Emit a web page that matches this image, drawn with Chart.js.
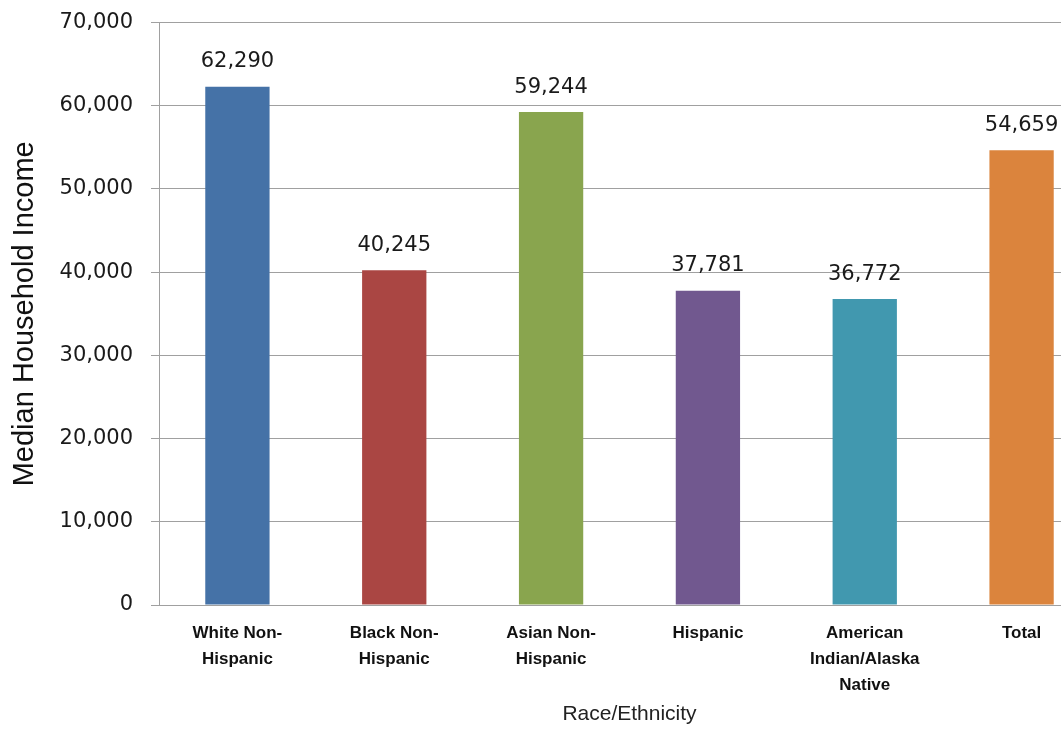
<!DOCTYPE html>
<html>
<head>
    <title>Median Household Income by Race/Ethnicity</title>
    <script src="https://cdn.jsdelivr.net/npm/chart.js"></script>
    <style>
        html, body { margin: 0; padding: 0; background: #fff; overflow: hidden; }
        #wrap { width: 1102px; height: 738px; margin-top: -8px; }
    </style>
</head>
<body>
    <div id="wrap"><canvas id="incomeChart"></canvas></div>

    <script>
        // Median household income per group
        var categories = [
            ['White Non-', 'Hispanic'],
            ['Black Non-', 'Hispanic'],
            ['Asian Non-', 'Hispanic'],
            'Hispanic',
            ['American', 'Indian/Alaska', 'Native'],
            'Total'
        ];
        var incomes = [62290, 40245, 59244, 37781, 36772, 54659];
        var barColors = ['#4572A7', '#AA4643', '#89A54E', '#71588F', '#4198AF', '#DB843D'];
        var yTicks = [0, 10000, 20000, 30000, 40000, 50000, 60000, 70000];

        function fmt(v) {
            return v.toLocaleString('en-US');
        }

        // Writes the value above each bar
        var valueLabels = {
            id: 'valueLabels',
            afterDatasetsDraw: function(chart) {
                var ctx = chart.ctx;
                var meta = chart.getDatasetMeta(0);
                ctx.save();
                ctx.font = '21px "DejaVu Sans"';
                ctx.fillStyle = '#1a1a1a';
                ctx.textAlign = 'center';
                ctx.textBaseline = 'middle';
                meta.data.forEach(function(bar, i) {
                    ctx.fillText(fmt(incomes[i]), bar.x, bar.y - 25);
                });
                ctx.restore();
            }
        };

        var ctx = document.getElementById('incomeChart').getContext('2d');
        var chart = new Chart(ctx, {
            type: 'bar',
            data: {
                labels: categories,
                datasets: [{
                    data: incomes,
                    backgroundColor: barColors,
                    borderWidth: 0,
                    categoryPercentage: 1,
                    barPercentage: 0.41
                }]
            },
            plugins: [valueLabels],
            options: {
                responsive: true,
                maintainAspectRatio: false,
                animation: false,
                layout: { padding: { top: 14, left: 0, right: 2, bottom: 0 } },
                plugins: {
                    legend: { display: false },
                    tooltip: { enabled: false }
                },
                scales: {
                    x: {
                        grid: { display: true, drawOnChartArea: false, drawTicks: false, color: '#a0a0a0' },
                        border: { display: true, color: '#a0a0a0' },
                        ticks: {
                            color: '#111',
                            padding: 15,
                            maxRotation: 0,
                            autoSkip: false,
                            font: { family: '"Liberation Sans"', size: 17, weight: 'bold', lineHeight: 1.53 }
                        },
                        title: {
                            display: true,
                            text: 'Race/Ethnicity',
                            color: '#222',
                            font: { family: '"Liberation Sans"', size: 21 },
                            padding: { top: 0, bottom: 3 }
                        },
                        afterFit: function(scale) { scale.height = 125; }
                    },
                    y: {
                        min: 0,
                        max: 70000,
                        afterBuildTicks: function(scale) {
                            scale.ticks = yTicks.map(function(v) { return { value: v }; });
                        },
                        grid: { color: '#a0a0a0', lineWidth: 1, tickLength: 8 },
                        border: { display: true, color: '#a0a0a0' },
                        ticks: {
                            color: '#1a1a1a',
                            padding: 18,
                            font: { family: '"DejaVu Sans"', size: 21 },
                            callback: function(v) { return fmt(v); }
                        },
                        title: {
                            display: true,
                            text: 'Median Household Income',
                            color: '#111',
                            font: { family: '"Liberation Sans"', size: 29 },
                            padding: { top: 8, bottom: 0 }
                        },
                        afterFit: function(scale) { scale.width = 159; }
                    }
                }
            }
        });
    </script>
</body>
</html>
